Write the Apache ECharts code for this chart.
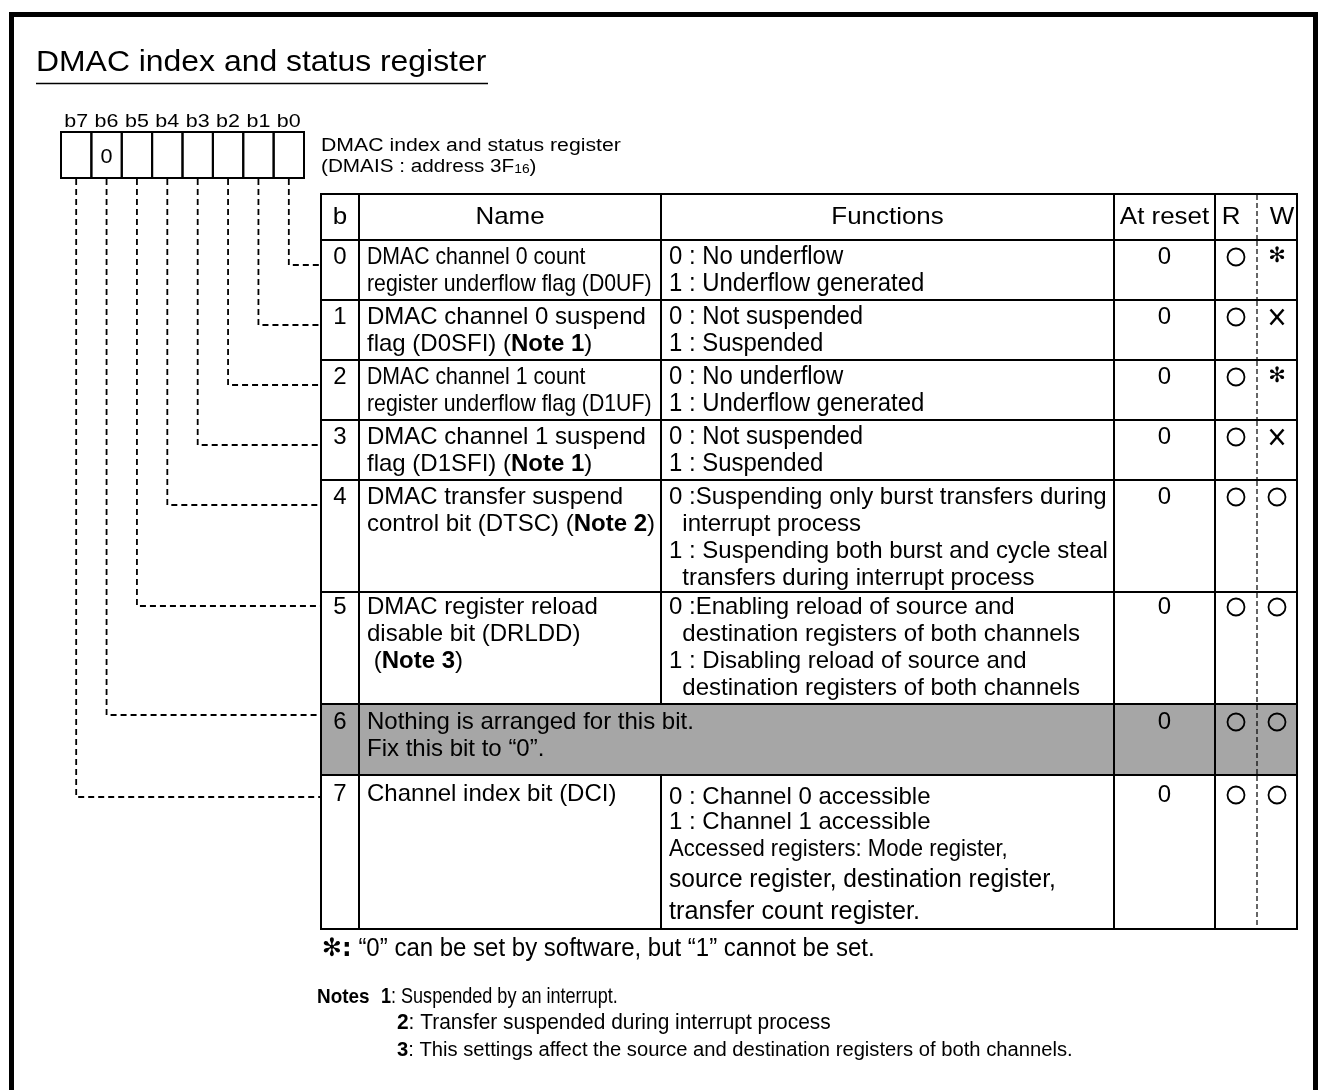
<!DOCTYPE html>
<html><head><meta charset="utf-8">
<script src="https://cdn.jsdelivr.net/npm/echarts@6/dist/echarts.min.js"></script>
<style>html,body{margin:0;padding:0;background:#fff;}#c{width:1325px;height:1090px;}</style>
</head><body><div id="c"></div>
<script>
// ---------------- data ----------------
const bitLabels = ['b7', 'b6', 'b5', 'b4', 'b3', 'b2', 'b1', 'b0'];
const bitValues = ['', '0', '', '', '', '', '', ''];
const headers = ['b', 'Name', 'Functions', 'At reset', 'R', 'W'];
const bitNumbers = ['0', '1', '2', '3', '4', '5', '6', '7'];
const bitNames = [
  ['DMAC channel 0 count', 'register underflow flag (D0UF)'],
  ['DMAC channel 0 suspend', 'flag (D0SFI) ({b|Note 1})'],
  ['DMAC channel 1 count', 'register underflow flag (D1UF)'],
  ['DMAC channel 1 suspend', 'flag (D1SFI) ({b|Note 1})'],
  ['DMAC transfer suspend', 'control bit (DTSC) ({b|Note 2})'],
  ['DMAC register reload', 'disable bit (DRLDD)', ' ({b|Note 3})'],
  ['Nothing is arranged for this bit.', 'Fix this bit to \u201c0\u201d.'],
  ['Channel index bit (DCI)']
];
const bitFunctions = [
  ['0 : No underflow', '1 : Underflow generated'],
  ['0 : Not suspended', '1 : Suspended'],
  ['0 : No underflow', '1 : Underflow generated'],
  ['0 : Not suspended', '1 : Suspended'],
  ['0 :Suspending only burst transfers during', '  interrupt process', '1 : Suspending both burst and cycle steal', '  transfers during interrupt process'],
  ['0 :Enabling reload of source and', '  destination registers of both channels', '1 : Disabling reload of source and', '  destination registers of both channels'],
  [],
  ['0 : Channel 0 accessible', '1 : Channel 1 accessible', 'Accessed registers: Mode register,', 'source register, destination register,', 'transfer count register.']
];
const resetValues = ['0', '0', '0', '0', '0', '0', '0', '0'];
const readAccess = ['O', 'O', 'O', 'O', 'O', 'O', 'O', 'O'];
const writeAccess = ['*', 'X', '*', 'X', 'O', 'O', 'O', 'O'];
const titleText = 'DMAC index and status register';
const registerCaption = ['DMAC index and status register', '(DMAIS : address 3F{sub|16})'];
const footnoteText = '{s|\u273B:} \u201c0\u201d can be set by software, but \u201c1\u201d cannot be set.';
const notesHead = 'Notes';
const notesText = ['{b|1}: Suspended by an interrupt.', '{b|2}: Transfer suspended during interrupt process', '{b|3}: This settings affect the source and destination registers of both channels.'];

// ---------------- layout / style ----------------
const FONT = '"Liberation Sans", Arial, Helvetica, sans-serif';
const SYMFONT = '"DejaVu Sans", sans-serif';
const GRAY = '#a6a6a6';
const L = {
  table: { left: 321, top: 194, width: 976, height: 735 },
  colEdges: [0, 38, 340, 793, 894, 936, 976],
  rowHeights: [46, 60, 60, 60, 60, 112, 112, 71, 154],
  firstLine: [17, 17, 17, 17, 17, 15, 18, 19],
  lineGap: 27,
  row7FuncOffsets: [22, 47, 74, 105, 137],
  row7FuncStyle: [{}, {}, { sx: 0.92 }, { size: 25, sx: 0.98 }, { size: 26, sx: 0.97 }],
  leaderOffsets: [25, 25, 25, 25, 25, 14, 11, 22],
  bits: { left: 61, top: 132, width: 243, height: 46 },
  condensedNames: [0, 2],
  condensedFuncs: [0, 1, 2, 3],
  grayRow: 6
};
const rowTops = [];
(function () { let a = 0; L.rowHeights.forEach(h => { rowTops.push(a); a += h; }); })();

function txt(x, y, text, o) {
  o = o || {};
  const size = o.size || 24;
  const align = o.align || 'left';
  const fam = o.family || FONT;
  return {
    type: 'text', x: x, y: y, scaleX: o.sx || 1, scaleY: 1,
    style: {
      text: text, x: 0, y: 0, fill: '#000',
      fontSize: size, fontFamily: fam, fontWeight: o.weight || 'normal',
      align: align, textAlign: align, verticalAlign: 'middle', textVerticalAlign: 'middle',
      rich: {
        b: { fontSize: size, fontFamily: FONT, fontWeight: 'bold', fill: '#000' },
        s: { fontSize: size, fontFamily: SYMFONT, fontWeight: 'bold', fill: '#000' },
        sub: { fontSize: Math.round(size * 0.68), fontFamily: FONT, fill: '#000', verticalAlign: 'bottom' }
      }
    }
  };
}
function seg(x1, y1, x2, y2, w, dash) {
  const st = { stroke: '#000', lineWidth: w || 2, fill: 'none' };
  if (dash) st.lineDash = dash;
  return { type: 'line', shape: { x1: x1, y1: y1, x2: x2, y2: y2 }, style: st };
}
function symbol(kind, cx, cy) {
  if (kind === 'O') return { type: 'circle', shape: { cx: cx, cy: cy, r: 8.5 }, style: { fill: 'none', stroke: '#000', lineWidth: 1.8 } };
  if (kind === 'X') return { type: 'group', children: [seg(cx - 6.5, cy - 7.5, cx + 6.5, cy + 7.5, 2.5), seg(cx + 6.5, cy - 7.5, cx - 6.5, cy + 7.5, 2.5)] };
  return txt(cx, cy, '\u273B', { size: 21, family: SYMFONT, weight: 'bold', align: 'center' });
}

function renderTable(params, api) {
  const r = api.value(2);
  const top = rowTops[r], h = L.rowHeights[r];
  const tl = api.coord([0, top]), br = api.coord([L.colEdges[6], top + h]);
  const xs = L.colEdges.map(c => api.coord([c, top])[0]);
  const y0 = tl[1], y1 = br[1];
  const bi = r - 1;
  const gray = bi === L.grayRow;
  const ch = [];
  ch.push({ type: 'rect', shape: { x: tl[0], y: y0, width: br[0] - tl[0], height: y1 - y0 }, style: { fill: gray ? GRAY : 'none', stroke: '#000', lineWidth: 2 } });
  [1, 2, 3, 4].forEach(k => { if (!(gray && k === 2)) ch.push(seg(xs[k], y0, xs[k], y1, 2)); });
  ch.push(seg(xs[5], y0 + 1, xs[5], y1 - 1, 1.2, [5, 3]));
  const cx = k => (xs[k] + xs[k + 1]) / 2;
  if (r === 0) {
    const ym = (y0 + y1) / 2;
    headers.forEach((t, k) => {
      const dx = k === 4 ? -5 : (k === 5 ? 5 : 0);
      ch.push(txt(cx(k) + dx, ym, t, { size: 24, sx: 1.08, align: 'center' }));
    });
  } else {
    const fy = y0 + L.firstLine[bi];
    ch.push(txt(cx(0), fy, bitNumbers[bi], { align: 'center' }));
    const condN = L.condensedNames.indexOf(bi) >= 0;
    bitNames[bi].forEach((t, j) => ch.push(txt(xs[1] + 8, fy + j * L.lineGap, t, { sx: condN ? 0.885 : 1 })));
    const condF = L.condensedFuncs.indexOf(bi) >= 0;
    bitFunctions[bi].forEach((t, j) => {
      if (bi === 7) {
        const st = L.row7FuncStyle[j];
        ch.push(txt(xs[2] + 8, y0 + L.row7FuncOffsets[j], t, { size: st.size || 24, sx: st.sx || 1 }));
      } else {
        ch.push(txt(xs[2] + 8, fy + j * L.lineGap, t, condF ? { size: 26, sx: 0.92 } : {}));
      }
    });
    const sy = bi === 7 ? y0 + 20 : fy;
    ch.push(txt(cx(3), sy, resetValues[bi], { align: 'center' }));
    ch.push(symbol(readAccess[bi], cx(4), sy));
    ch.push(symbol(writeAccess[bi], cx(5), sy));
  }
  return { type: 'group', children: ch };
}

function renderBits(params, api) {
  const i = api.value(0);
  const c = api.coord([i, 1]);
  const s = api.size([1, 1]);
  const x = c[0] - s[0] / 2, y = c[1];
  return {
    type: 'group', children: [
      { type: 'rect', shape: { x: x, y: y, width: s[0], height: s[1] }, style: { fill: 'none', stroke: '#000', lineWidth: 2 } },
      txt(c[0], y - 10, bitLabels[i], { size: 19, sx: 1.13, align: 'center' }),
      txt(c[0], y + s[1] / 2 + 2, bitValues[i], { size: 20, sx: 1.08, align: 'center' })
    ]
  };
}

const chart = echarts.init(document.getElementById('c'), null, { renderer: 'canvas' });
const option = {
  animation: false,
  backgroundColor: '#fff',
  grid: [
    { left: L.bits.left, top: L.bits.top, width: L.bits.width, height: L.bits.height },
    { left: L.table.left, top: L.table.top, width: L.table.width, height: L.table.height }
  ],
  xAxis: [
    { type: 'category', gridIndex: 0, data: bitLabels, show: false },
    { type: 'value', gridIndex: 1, min: 0, max: L.colEdges[6], show: false }
  ],
  yAxis: [
    { type: 'value', gridIndex: 0, min: 0, max: 1, show: false },
    { type: 'value', gridIndex: 1, min: 0, max: rowTops[rowTops.length - 1] + L.rowHeights[L.rowHeights.length - 1], inverse: true, show: false }
  ],
  graphic: [
    { type: 'rect', shape: { x: 11.5, y: 14.5, width: 1304, height: 1200 }, style: { fill: 'none', stroke: '#000', lineWidth: 5 } },
    txt(36, 63, titleText, { size: 29, sx: 1.1 }),
    seg(36, 83.5, 488, 83.5, 1.5),
    txt(321, 146, registerCaption[0], { size: 18, sx: 1.18 }),
    txt(321, 167, registerCaption[1], { size: 18, sx: 1.15 }),
    txt(322, 949, footnoteText, { size: 25, sx: 0.96 }),
    txt(317, 997, notesHead, { size: 21, weight: 'bold', sx: 0.9 }),
    txt(381, 997, notesText[0], { size: 22, sx: 0.82 }),
    txt(397, 1023, notesText[1], { size: 22, sx: 0.95 }),
    txt(397, 1050, notesText[2], { size: 20, sx: 1.01 })
  ],
  series: [
    { type: 'custom', name: 'bits', xAxisIndex: 0, yAxisIndex: 0, renderItem: renderBits, data: bitLabels.map((b, i) => [i, 1]) },
    { type: 'custom', name: 'table', xAxisIndex: 1, yAxisIndex: 1, renderItem: renderTable, data: L.rowHeights.map((h, i) => [0, rowTops[i], i]) }
  ]
};
chart.setOption(option);

// leader lines: positions from the two coordinate systems
const leaderData = bitNumbers.map((b, r) => {
  const cat = bitLabels.indexOf('b' + b);
  const pTop = chart.convertToPixel({ gridIndex: 0 }, [cat, 0]);
  const pRow = chart.convertToPixel({ gridIndex: 1 }, [0, rowTops[r + 1] + L.leaderOffsets[r]]);
  return [pTop[0], pTop[1], pRow[0], pRow[1]];
});
chart.setOption({
  series: [
    { type: 'custom', name: 'bits' },
    { type: 'custom', name: 'table' },
    {
      type: 'custom', name: 'leaders', coordinateSystem: 'none', data: leaderData,
      renderItem: function (params, api) {
        const x = api.value(0), yt = api.value(1), xl = api.value(2), yr = api.value(3);
        return { type: 'polyline', shape: { points: [[x, yt + 1], [x, yr], [xl, yr]] }, style: { fill: 'none', stroke: '#000', lineWidth: 1.8, lineDash: [6, 4] } };
      }
    }
  ]
});
</script></body></html>
